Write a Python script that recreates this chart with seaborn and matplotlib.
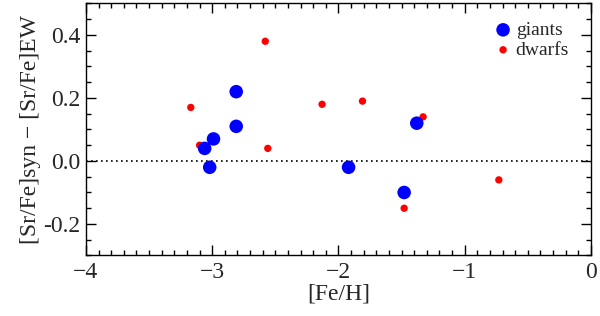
import numpy as np
import pandas as pd
import matplotlib
matplotlib.use("Agg")
import matplotlib.pyplot as plt
import seaborn as sns
from matplotlib.ticker import MultipleLocator

# giants (blue, large)
giant_feh = [-2.81, -2.81, -2.99, -3.06, -3.02, -1.92, -1.48, -1.38]
giant_dsr = [0.22, 0.11, 0.07, 0.04, -0.02, -0.02, -0.10, 0.12]

# dwarfs (red, small)
dwarf_feh = [-3.17, -2.58, -3.10, -2.56, -2.13, -1.81, -1.33, -1.48, -0.73]
dwarf_dsr = [0.17, 0.38, 0.05, 0.04, 0.18, 0.19, 0.14, -0.15, -0.06]

giants = pd.DataFrame({"feh": giant_feh, "dsr": giant_dsr})
dwarfs = pd.DataFrame({"feh": dwarf_feh, "dsr": dwarf_dsr})

sns.set_style("ticks")
plt.rcParams["font.family"] = ["Liberation Serif", "DejaVu Serif"]

fig = plt.figure(figsize=(6, 3.16), dpi=100)
ax = fig.add_axes([0.1433, 0.1915, 0.8417, 0.7975])

ax.axhline(0, color="black", linestyle=(0, (1, 2)), lw=1.2, zorder=1)
sns.scatterplot(data=dwarfs, x="feh", y="dsr", color="red", s=28,
                edgecolor="none", label="dwarfs", ax=ax, zorder=2)
sns.scatterplot(data=giants, x="feh", y="dsr", color="blue", s=95,
                edgecolor="none", label="giants", ax=ax, zorder=3)

ax.set_xlim(-4, 0)
ax.set_ylim(-0.3, 0.5)
ax.xaxis.set_major_locator(MultipleLocator(1))
ax.xaxis.set_minor_locator(MultipleLocator(0.1))
ax.yaxis.set_major_locator(MultipleLocator(0.2))
ax.yaxis.set_minor_locator(MultipleLocator(0.05))
ax.yaxis.set_major_formatter(matplotlib.ticker.FormatStrFormatter("%.1f"))
ax.tick_params(which="both", direction="in", top=True, right=True,
               labelsize=17, color="black")
ax.tick_params(which="major", length=7, width=1)
ax.tick_params(which="minor", length=3.5, width=1)
ax.tick_params(axis="x", pad=5)
ax.tick_params(axis="y", pad=4)
for sp in ax.spines.values():
    sp.set_linewidth(1)
    sp.set_color("black")

ax.set_xlabel("[Fe/H]", fontsize=17, labelpad=0)
ax.set_ylabel("[Sr/Fe]syn \u2212 [Sr/Fe]EW", fontsize=17, labelpad=2)

handles, labels = ax.get_legend_handles_labels()
ax.legend(handles[::-1], labels[::-1], loc="upper right", frameon=False,
          fontsize=14, handletextpad=0.15, handlelength=1.0,
          labelspacing=0.12, borderaxespad=0.0, bbox_to_anchor=(0.972, 0.96))

fig.savefig("out.png", dpi=100)
